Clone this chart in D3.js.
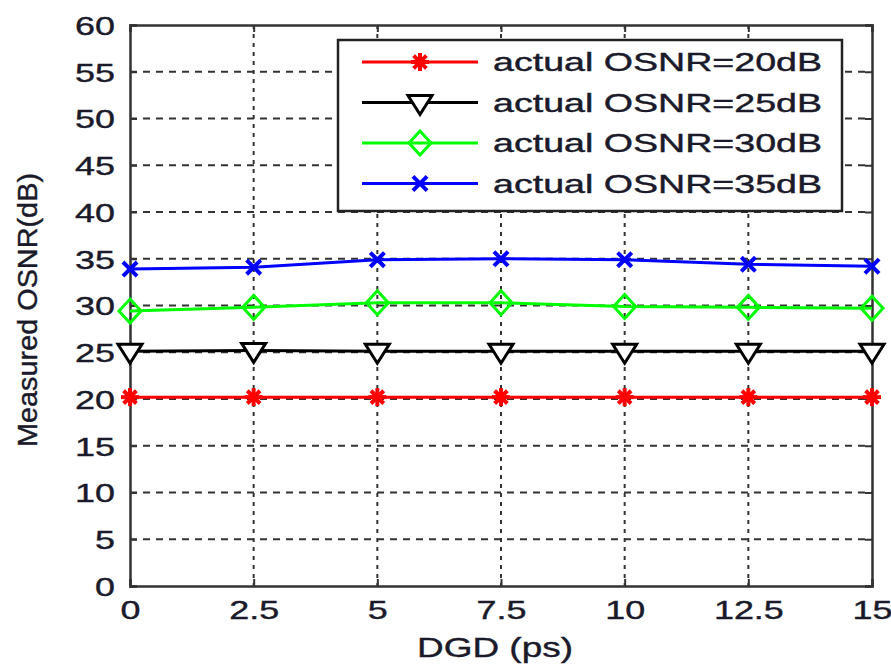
<!DOCTYPE html>
<html>
<head>
<meta charset="utf-8">
<script src="https://cdn.jsdelivr.net/npm/d3@7"></script>
<style>
  body { margin: 0; background: #fff; }
  svg text { font-family: "Liberation Sans", Arial, sans-serif; fill: #1a1a2a; stroke: #1a1a2a; stroke-width: 0.4px; }
</style>
</head>
<body>
<svg id="chart" width="891" height="664"></svg>
<script>
// DGD values (ps) on the x axis
const dgd = [0, 2.5, 5, 7.5, 10, 12.5, 15];
const xTicks = [0, 2.5, 5, 7.5, 10, 12.5, 15];
const yTicks = [0, 5, 10, 15, 20, 25, 30, 35, 40, 45, 50, 55, 60];

// measured OSNR per actual OSNR
const osnr20 = [20.2, 20.2, 20.2, 20.2, 20.2, 20.2, 20.2];
const osnr25 = [25.1, 25.2, 25.1, 25.1, 25.1, 25.1, 25.1];
const osnr30 = [29.4, 29.8, 30.3, 30.3, 29.9, 29.8, 29.7];
const osnr35 = [33.9, 34.1, 34.9, 35.0, 34.9, 34.4, 34.2];

const seriesNames = ["actual OSNR=20dB", "actual OSNR=25dB", "actual OSNR=30dB", "actual OSNR=35dB"];
const seriesColors = ["#ff0000", "#000000", "#00ff00", "#0000ff"];
const seriesMarkers = ["star", "tri", "diamond", "cross"];
const seriesValues = [osnr20, osnr25, osnr30, osnr35];

const svg = d3.select("#chart");
const m = { left: 130, right: 872, top: 25, bottom: 586 };

const x = d3.scaleLinear().domain([0, 15]).range([m.left, m.right]);
const y = d3.scaleLinear().domain([0, 60]).range([m.bottom, m.top]);

// grid
svg.append("g").selectAll("line").data(yTicks.slice(1, -1)).join("line")
    .attr("x1", m.left).attr("x2", m.right)
    .attr("y1", d => y(d)).attr("y2", d => y(d))
    .attr("stroke", "#333").attr("stroke-width", 2)
    .attr("stroke-dasharray", "7,6");
svg.append("g").selectAll("line").data(xTicks.slice(1, -1)).join("line")
    .attr("x1", d => x(d)).attr("x2", d => x(d))
    .attr("y1", m.top).attr("y2", m.bottom)
    .attr("stroke", "#333").attr("stroke-width", 2)
    .attr("stroke-dasharray", "4,5");

// axes
const yAxis = svg.append("g").attr("transform", `translate(${m.left},0)`)
    .call(d3.axisLeft(y).tickValues(yTicks).tickSize(-7).tickFormat(d3.format("d")));
const xAxis = svg.append("g").attr("transform", `translate(0,${m.bottom})`)
    .call(d3.axisBottom(x).tickValues(xTicks).tickSize(-7).tickFormat(d => d));
svg.append("g").attr("transform", `translate(${m.right},0)`)
    .call(d3.axisRight(y).tickValues(yTicks).tickSize(-7).tickFormat(""));
svg.append("g").attr("transform", `translate(0,${m.top})`)
    .call(d3.axisTop(x).tickValues(xTicks).tickSize(-7).tickFormat(""));
svg.selectAll(".domain").attr("stroke", "#333").attr("stroke-width", 2.5);
svg.selectAll(".tick line").attr("stroke", "#333").attr("stroke-width", 2);
yAxis.selectAll("text").attr("font-size", 26).attr("x", 0).attr("dy", "0.36em")
    .attr("transform", "translate(-15,0) scale(1.38,1)");
xAxis.selectAll("text").attr("font-size", 26).attr("y", 0).attr("dy", "0")
    .attr("transform", "translate(0,33) scale(1.38,1)");

// markers
function marker(g, type, color) {
  const s = 9;
  if (type === "star") {
    [0, 45, 90, 135].forEach(a => {
      g.append("line").attr("x1", -s).attr("x2", s).attr("y1", 0).attr("y2", 0)
        .attr("transform", `rotate(${a})`)
        .attr("stroke", color).attr("stroke-width", 4);
    });
  } else if (type === "tri") {
    g.append("path").attr("d", `M${-s - 3},${-s + 2}L${s + 3},${-s + 2}L0,${s + 3}Z`)
      .attr("fill", "#fff").attr("stroke", color).attr("stroke-width", 3);
  } else if (type === "diamond") {
    g.append("path").attr("d", `M0,${-s - 3}L${s + 2},0L0,${s + 3}L${-s - 2},0Z`)
      .attr("fill", "none").attr("stroke", color).attr("stroke-width", 3);
  } else {
    [45, 135].forEach(a => {
      g.append("line").attr("x1", -s - 1).attr("x2", s + 1).attr("y1", 0).attr("y2", 0)
        .attr("transform", `rotate(${a})`)
        .attr("stroke", color).attr("stroke-width", 4);
    });
  }
}

const line = d3.line().x((d, i) => x(dgd[i])).y(d => y(d));
seriesValues.forEach((vals, k) => {
  svg.append("path").attr("d", line(vals))
    .attr("fill", "none").attr("stroke", seriesColors[k]).attr("stroke-width", 3);
  vals.forEach((v, i) => {
    const g = svg.append("g").attr("transform", `translate(${x(dgd[i])},${y(v)})`);
    marker(g, seriesMarkers[k], seriesColors[k]);
  });
});

// legend
const lg = svg.append("g");
lg.append("rect").attr("x", 338).attr("y", 40).attr("width", 504).attr("height", 171)
  .attr("fill", "#fff").attr("stroke", "#222").attr("stroke-width", 2.5);
seriesNames.forEach((name, k) => {
  const ly = 62 + k * 40.5;
  lg.append("line").attr("x1", 362).attr("x2", 478).attr("y1", ly).attr("y2", ly)
    .attr("stroke", seriesColors[k]).attr("stroke-width", 3);
  marker(lg.append("g").attr("transform", `translate(420,${ly})`), seriesMarkers[k], seriesColors[k]);
  lg.append("text").attr("x", 493).attr("y", ly).attr("dy", "0.36em")
    .attr("font-size", 25).attr("textLength", 329).attr("lengthAdjust", "spacingAndGlyphs")
    .text(name);
});

// axis titles
svg.append("text").attr("transform", "translate(37,310) rotate(-90)")
  .attr("text-anchor", "middle").attr("font-size", 27)
  .attr("textLength", 274).attr("lengthAdjust", "spacingAndGlyphs")
  .text("Measured OSNR(dB)");
svg.append("text").attr("x", 417).attr("y", 657)
  .attr("font-size", 28).attr("textLength", 156).attr("lengthAdjust", "spacingAndGlyphs")
  .text("DGD (ps)");
</script>
</body>
</html>
